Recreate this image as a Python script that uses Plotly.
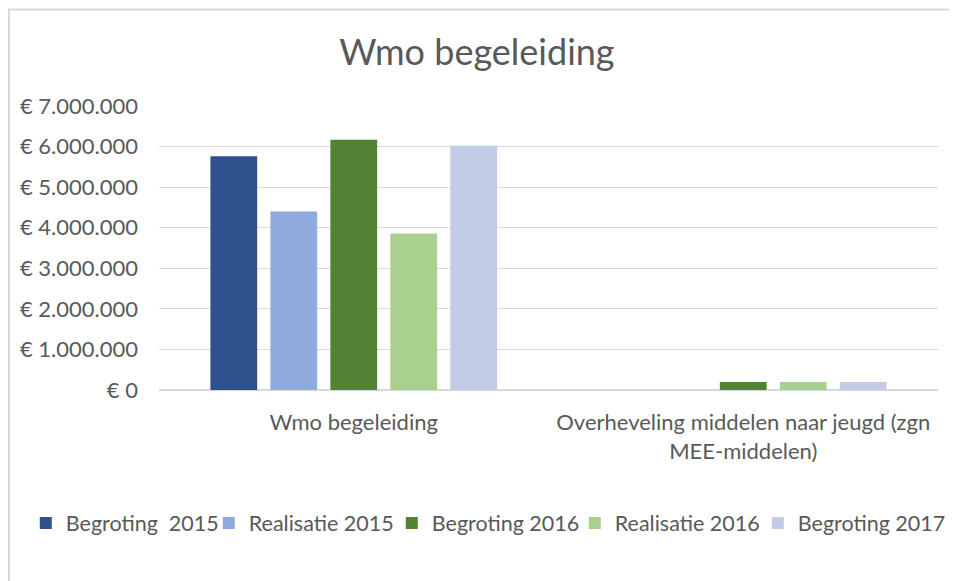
import plotly.graph_objects as go

categories = ["Wmo begeleiding", "Overheveling middelen naar jeugd (zgn<br>MEE-middelen)"]
series_names = ["Begroting\u00a0 2015", "Realisatie 2015", "Begroting 2016", "Realisatie 2016", "Begroting 2017"]
begroting_2015 = [5760000, 0]
realisatie_2015 = [4400000, 0]
begroting_2016 = [6170000, 200000]
realisatie_2016 = [3860000, 200000]
begroting_2017 = [6020000, 200000]
series_values = [begroting_2015, realisatie_2015, begroting_2016, realisatie_2016, begroting_2017]
colors = ["#2F528F", "#8FAADC", "#548235", "#A9D18E", "#C2CCE6"]
tick_values = [0, 1000000, 2000000, 3000000, 4000000, 5000000, 6000000, 7000000]
tick_labels = ["€ 0", "€ 1.000.000", "€ 2.000.000", "€ 3.000.000", "€ 4.000.000",
               "€ 5.000.000", "€ 6.000.000", "€ 7.000.000"]

font_family = "Lato, 'Open Sans', sans-serif"
text_color = "#595959"

fig = go.Figure()
for i, (name, vals, col) in enumerate(zip(series_names, series_values, colors)):
    fig.add_trace(go.Bar(
        x=categories, y=vals, name=name,
        marker=dict(color=col, line=dict(width=0)),
        legendwidth=152 if i == len(series_names) - 1 else None,
    ))

fig.update_layout(
    width=957, height=581,
    paper_bgcolor="white", plot_bgcolor="white",
    barmode="group", bargap=0.23, bargroupgap=0.22,
    margin=dict(l=151, r=27, t=98, b=199),
    font=dict(family=font_family, color=text_color, size=22),
    title=dict(text="Wmo begeleiding", x=0.49, xanchor="center", y=1 - 44 / 581, yanchor="middle",
               font=dict(size=36, color=text_color, family=font_family)),
    legend=dict(orientation="h", x=-0.171, xanchor="left", y=-0.468, yanchor="middle",
                font=dict(size=21.5, color=text_color), itemwidth=30, traceorder="normal",
                entrywidth=138, entrywidthmode="pixels", itemclick=False),
    showlegend=True,
)
fig.update_yaxes(
    range=[0, 7000000], tickvals=tick_values, ticktext=tick_labels,
    showgrid=True, gridcolor="#D9D9D9", gridwidth=1, zeroline=True, zerolinecolor="#D9D9D9",
    showline=False, ticks="", ticklabelstandoff=20, tickfont=dict(size=22, color=text_color),
)
fig.update_xaxes(
    showline=True, linecolor="#D9D9D9", ticks="", ticklabelstandoff=13,
    tickfont=dict(size=22, color=text_color), tickangle=0,
)
fig.add_shape(type="rect", xref="paper", yref="paper",
              x0=(1 - 151) / 779, x1=1.2, y0=-0.8, y1=(382 - 1) / 284.3,
              line=dict(color="#D9D9D9", width=2), fillcolor="rgba(0,0,0,0)", layer="below")

fig.write_html("out.html")
